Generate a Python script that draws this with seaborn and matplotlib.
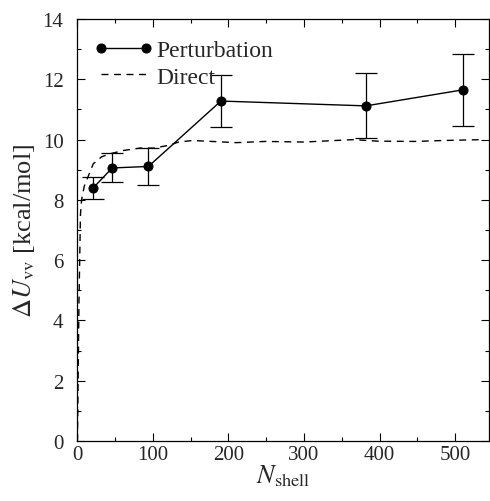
import numpy as np
import pandas as pd
import matplotlib
matplotlib.use("Agg")
import matplotlib.pyplot as plt
import seaborn as sns
from matplotlib.ticker import MultipleLocator

# Perturbation data
pert_n = [21, 46, 94, 190, 382, 510]
pert_u = [8.40, 9.06, 9.11, 11.28, 11.12, 11.65]
pert_err = [0.36, 0.48, 0.61, 0.86, 1.08, 1.20]

# Direct data (dashed curve)
direct_n = [0, 2, 4, 5.5, 9, 14.6, 21, 32, 43, 61, 83, 101, 121, 134, 152,
            178, 210, 249, 300, 340, 366, 397, 447, 483, 535]
direct_u = [0.0, 4.5, 7.5, 8.0, 8.45, 8.8, 9.2, 9.43, 9.53, 9.64, 9.72, 9.72,
            9.81, 9.92, 9.97, 9.94, 9.9, 9.94, 9.92, 9.97, 10.0, 9.95, 9.94,
            9.97, 10.0]

sns.set_style("ticks")
plt.rcParams["font.family"] = ["Liberation Serif", "DejaVu Serif"]
plt.rcParams["mathtext.fontset"] = "stix"

fig = plt.figure(figsize=(4.90, 5.02), dpi=100)
ax = fig.add_axes([0.158, 0.1195, 0.840, 0.8405])

df_d = pd.DataFrame({"N": direct_n, "U": direct_u})
df_p = pd.DataFrame({"N": pert_n, "U": pert_u})

sns.lineplot(data=df_d, x="N", y="U", ax=ax, color="black", lw=1.0,
             linestyle=(0, (5, 4)), label="Direct", zorder=2)
ax.errorbar(pert_n, pert_u, yerr=pert_err, fmt="none", ecolor="black",
            elinewidth=0.9, capsize=8, capthick=0.9, zorder=3)
sns.lineplot(data=df_p, x="N", y="U", ax=ax, color="black", lw=1.0,
             marker="o", markersize=6.5, markeredgecolor="black",
             label="Perturbation", zorder=4)

ax.set_xlim(0, 545)
ax.set_ylim(0, 14)
ax.xaxis.set_major_locator(MultipleLocator(100))
ax.xaxis.set_minor_locator(MultipleLocator(50))
ax.yaxis.set_major_locator(MultipleLocator(2))
ax.yaxis.set_minor_locator(MultipleLocator(1))
ax.tick_params(which="both", direction="in", top=True, right=True,
               labelsize=15, width=0.8, color="black")
ax.tick_params(which="major", length=6)
ax.tick_params(axis="x", which="major", pad=3)
ax.tick_params(axis="y", which="major", pad=10)
ax.tick_params(which="minor", length=3)
for s in ax.spines.values():
    s.set_linewidth(0.9)
    s.set_color("black")

ax.set_xlabel(r"$N_{\rm shell}$", fontsize=19, labelpad=-1)
ax.set_ylabel(r"$\Delta U_{\rm vv}$ [kcal/mol]", fontsize=19, labelpad=4)

handles, labels = ax.get_legend_handles_labels()
order = [labels.index("Perturbation"), labels.index("Direct")]
leg = ax.legend([handles[i] for i in order], [labels[i] for i in order],
                loc="upper left", frameon=False, fontsize=17,
                handlelength=2.5, numpoints=2, borderaxespad=0,
                borderpad=0, handletextpad=0.15, labelspacing=0.2,
                bbox_to_anchor=(0.04, 0.951))

fig.savefig("out.png", dpi=100)
